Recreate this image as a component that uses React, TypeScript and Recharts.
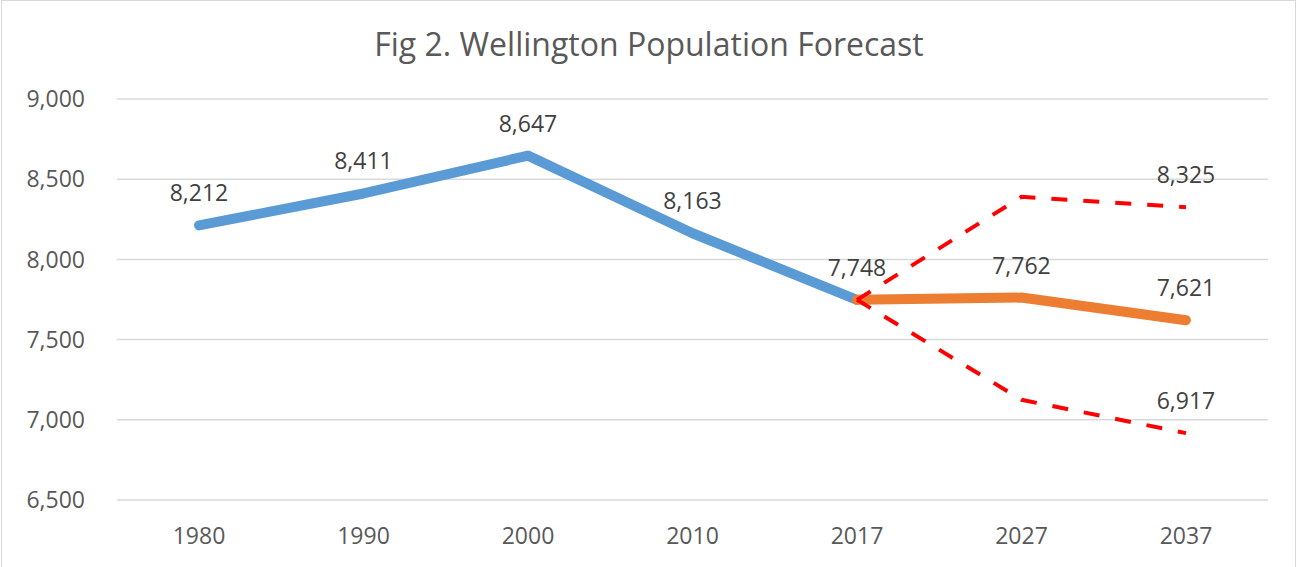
import { LineChart, Line, XAxis, YAxis, CartesianGrid } from "recharts";

const years = ["1980", "1990", "2000", "2010", "2017", "2027", "2037"];
const historical = [8212, 8411, 8647, 8163, 7748, null, null];
const forecast = [null, null, null, null, 7748, 7762, 7621];
const highCase = [null, null, null, null, 7748, 8390, 8325];
const lowCase = [null, null, null, null, 7748, 7125, 6917];
const yTicks = [6500, 7000, 7500, 8000, 8500, 9000];

// which points carry a value label, per series
const historicalLabels = [0, 1, 2, 3];
const forecastLabels = [4, 5, 6];
const highLabels = [6];
const lowLabels = [6];

const data = years.map((year, i) => ({
  year,
  historical: historical[i],
  forecast: forecast[i],
  high: highCase[i],
  low: lowCase[i],
}));

const fmt = (v: number) => v.toLocaleString("en-US");

const makeLabel = (show: number[]) => (props: any) => {
  const { x, y, value, index } = props;
  if (!show.includes(index) || value == null) return null;
  return (
    <text
      key={`lbl-${index}`}
      x={x}
      y={y - 24}
      textAnchor="middle"
      fill="#404040"
      fontSize={23}
      fontFamily="Open Sans"
    >
      {fmt(value)}
    </text>
  );
};

function App() {
  return (
    <div style={{ position: "absolute", left: 0, top: 0, width: 1298, height: 567, fontFamily: "Open Sans", background: "#fff" }}>
      <div
        style={{
          position: "absolute",
          left: 1,
          top: 0,
          width: 1295,
          height: 600,
          border: "1px solid #d9d9d9",
          boxSizing: "border-box",
        }}
      />
      <div
        style={{
          position: "absolute",
          left: 0,
          top: 24,
          width: 1298,
          textAlign: "center",
          fontSize: 32,
          lineHeight: "40px",
          color: "#595959",
        }}
      >
        Fig 2. Wellington Population Forecast
      </div>
      <LineChart
        width={1298}
        height={567}
        data={data}
        margin={{ top: 99, right: 30, bottom: 0, left: 0 }}
        style={{ position: "absolute", left: 0, top: 0 }}
      >
        <CartesianGrid vertical={false} stroke="#d9d9d9" strokeWidth={1.5} />
        <XAxis
          dataKey="year"
          height={67}
          padding={{ left: 82, right: 82 }}
          axisLine={false}
          tickLine={false}
          tickSize={0}
          tickMargin={28}
          tick={{ fill: "#595959", fontSize: 23 }}
        />
        <YAxis
          width={117}
          domain={[6500, 9000]}
          ticks={yTicks}
          axisLine={false}
          tickLine={false}
          tickSize={0}
          tickMargin={32}
          tickFormatter={fmt}
          tick={{ fill: "#595959", fontSize: 23 }}
        />
        <Line
          dataKey="historical"
          stroke="#5b9bd5"
          strokeWidth={10}
          strokeLinecap="round"
          strokeLinejoin="round"
          dot={false}
          activeDot={false}
          label={makeLabel(historicalLabels)}
          isAnimationActive={false}
        />
        <Line
          dataKey="forecast"
          stroke="#ed7d31"
          strokeWidth={10}
          strokeLinecap="round"
          strokeLinejoin="round"
          dot={false}
          activeDot={false}
          label={makeLabel(forecastLabels)}
          isAnimationActive={false}
        />
        <Line
          dataKey="high"
          stroke="#ff0000"
          strokeWidth={4}
          strokeDasharray="16 16"
          dot={false}
          activeDot={false}
          label={makeLabel(highLabels)}
          isAnimationActive={false}
        />
        <Line
          dataKey="low"
          stroke="#ff0000"
          strokeWidth={4}
          strokeDasharray="16 16"
          dot={false}
          activeDot={false}
          label={makeLabel(lowLabels)}
          isAnimationActive={false}
        />
      </LineChart>
    </div>
  );
}

export default App;
